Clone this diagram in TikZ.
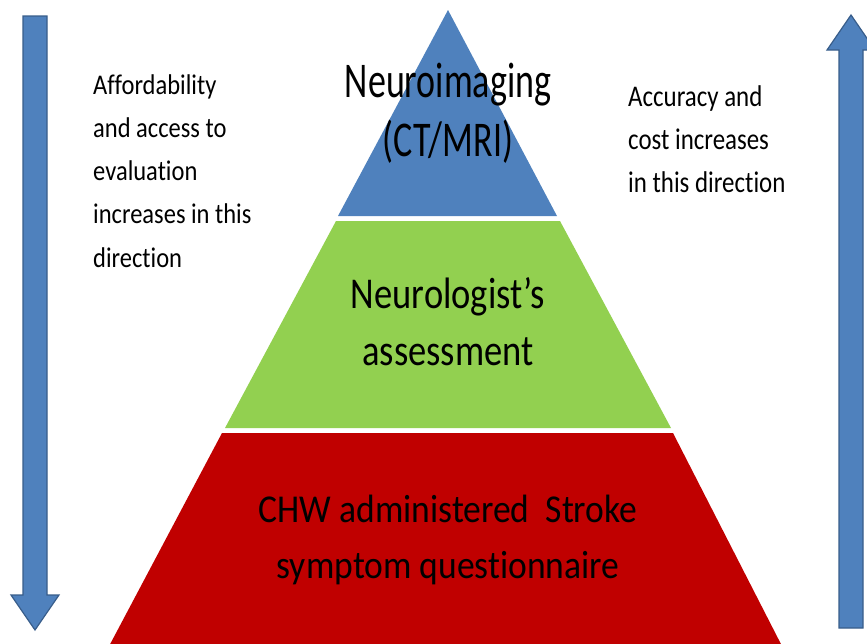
\documentclass[tikz,border=0pt]{standalone}
\usepackage{fontspec}
\usepackage{graphicx}
\setmainfont[Ligatures=NoCommon]{Carlito}
\definecolor{pblue}{HTML}{4F81BD}
\definecolor{pgreen}{HTML}{92D050}
\definecolor{pred}{HTML}{C00000}
\definecolor{aedge}{HTML}{385D8A}
\newcommand{\sqtext}[3]{\scalebox{#1}[1]{\begin{tabular}[t]{@{}#2@{}}#3\end{tabular}}}
\begin{document}
\begin{tikzpicture}[x=1pt,y=-1pt,
  layer/.style={inner sep=0pt,anchor=base,text=black},
  side/.style={inner sep=0pt,anchor=base west,text=black},
  bigarrow/.style={fill=pblue,draw=aedge,line width=1.2pt,line join=miter}]
\useasboundingbox (0,0) rectangle (867,643);
\clip (0,0) rectangle (867,643);
% pyramid layers
\fill[pblue] (448,10) -- (557,216) -- (338,216) -- cycle;
\fill[pgreen] (336,221) -- (560,221) -- (671,428) -- (225,428) -- cycle;
\fill[pred] (222,433) -- (673,433) -- (784,650) -- (107,650) -- cycle;
% arrows
\draw[bigarrow] (23,16) -- (47,16) -- (47,595) -- (59,595) -- (35,630) -- (11,595) -- (23,595) -- cycle;
\draw[bigarrow] (839,628) -- (863,628) -- (863,50) -- (875,50) -- (851,15) -- (827,50) -- (839,50) -- cycle;
% texts
\node[layer,font=\fontsize{50}{59}\selectfont] (top) at (448,97) {\sqtext{0.72}{c}{Neuroimaging\\(CT/MRI)}};
\node[layer,font=\fontsize{44}{57}\selectfont] (mid) at (448,308) {\sqtext{0.83}{c}{Neurologist’s\\assessment}};
\node[layer,font=\fontsize{39.5}{56}\selectfont] (bot) at (448,522) {\sqtext{0.9}{c}{CHW administered\ \ Stroke\\symptom questionnaire}};
\node[side,font=\fontsize{28.5}{43.25}\selectfont] (lt) at (93,94) {\sqtext{0.86}{l}{Affordability\\and access to\\evaluation\\increases in this\\direction}};
\node[side,font=\fontsize{30}{43.25}\selectfont] (rt) at (628,106) {\sqtext{0.83}{l}{Accuracy and\\cost increases\\in this direction}};
\end{tikzpicture}
\end{document}
